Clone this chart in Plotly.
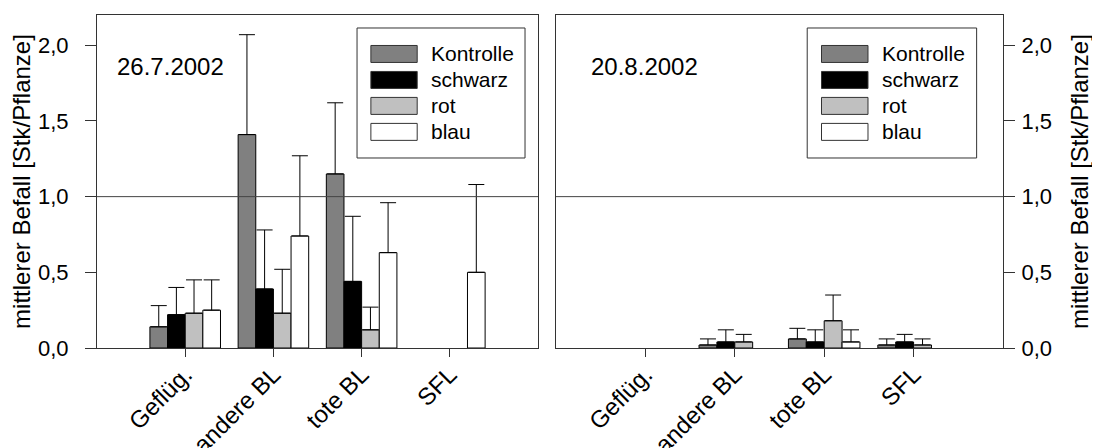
import plotly.graph_objects as go

categories = ["Geflüg.", "andere BL", "tote BL", "SFL"]
series_names = ["Kontrolle", "schwarz", "rot", "blau"]
series_colors = ["#808080", "#000000", "#c0c0c0", "#ffffff"]

dates = ["26.7.2002", "20.8.2002"]

# 26.7.2002 means and upper errors
jul_values = {
    "Kontrolle": [0.14, 1.41, 1.15, 0.0],
    "schwarz":   [0.22, 0.39, 0.44, 0.0],
    "rot":       [0.23, 0.23, 0.12, 0.0],
    "blau":      [0.25, 0.74, 0.63, 0.50],
}
jul_errors = {
    "Kontrolle": [0.14, 0.66, 0.47, 0.0],
    "schwarz":   [0.18, 0.39, 0.43, 0.0],
    "rot":       [0.22, 0.29, 0.15, 0.0],
    "blau":      [0.20, 0.53, 0.33, 0.58],
}
# 20.8.2002 means and upper errors
aug_values = {
    "Kontrolle": [0.0, 0.02, 0.06, 0.02],
    "schwarz":   [0.0, 0.04, 0.04, 0.04],
    "rot":       [0.0, 0.04, 0.18, 0.02],
    "blau":      [0.0, 0.0, 0.04, 0.0],
}
aug_errors = {
    "Kontrolle": [0.0, 0.04, 0.07, 0.04],
    "schwarz":   [0.0, 0.08, 0.08, 0.05],
    "rot":       [0.0, 0.05, 0.17, 0.04],
    "blau":      [0.0, 0.0, 0.08, 0.0],
}

y_tickvals = [0.0, 0.5, 1.0, 1.5, 2.0]
y_ticktext = ["0,0", "0,5", "1,0", "1,5", "2,0"]
y_title = "mittlerer Befall [Stk/Pflanze]"
threshold = 1.0

FONT = "Liberation Sans, Arial, sans-serif"
AXC = "#333333"

fig = go.Figure()

panels = [(jul_values, jul_errors, "x", "y"), (aug_values, aug_errors, "x2", "y2")]
for vals, errs, xa, ya in panels:
    for name, col in zip(series_names, series_colors):
        v = vals[name]
        e = errs[name]
        fig.add_trace(go.Bar(
            x=list(range(len(categories))), y=[a if a > 0 else None for a in v], name=name,
            xaxis=xa, yaxis=ya, offsetgroup=name,
            marker=dict(color=col, line=dict(color="#000000", width=1)),
            error_y=dict(type="data", array=[x if x > 0 else None for x in e],
                         arrayminus=[0] * len(e), symmetric=False,
                         width=8, thickness=1, color="#000000"),
            showlegend=False,
        ))

xcommon = dict(range=[-1, 4], tickvals=list(range(len(categories))), ticktext=categories,
               tickangle=-45, ticks="outside", ticklen=8, tickwidth=1, tickcolor=AXC,
               showline=True, linecolor=AXC, linewidth=1, mirror=True,
               showgrid=False, zeroline=False, automargin=False, ticklabelstandoff=-6,
               tickfont=dict(family=FONT, size=24, color="#000"))
ycommon = dict(range=[0, 2.2], tickvals=y_tickvals, ticktext=y_ticktext,
               ticks="outside", ticklen=11, tickwidth=1, tickcolor=AXC,
               showline=True, linecolor=AXC, linewidth=1, mirror=True,
               showgrid=False, zeroline=False, automargin=False,
               tickfont=dict(family=FONT, size=22, color="#000"))

fig.update_layout(
    width=1092, height=440,
    margin=dict(l=89, r=97, t=7, b=100),
    paper_bgcolor="white", plot_bgcolor="white",
    barmode="group", bargap=0.2, bargroupgap=0,
    xaxis=dict(domain=[0, 0.4868], anchor="y", **xcommon),
    xaxis2=dict(domain=[0.5066, 1], anchor="y2", **xcommon),
    yaxis=dict(domain=[0, 1], anchor="x", side="left", ticklabelstandoff=12,
               title=dict(text=y_title, font=dict(family=FONT, size=24, color="#000"), standoff=12),
               **ycommon),
    yaxis2=dict(domain=[0, 1], anchor="x2", side="right", ticklabelstandoff=2,
                title=dict(text=y_title, font=dict(family=FONT, size=24, color="#000"), standoff=20),
                **ycommon),
    showlegend=False,
)

# threshold line
for xa, ya in [("x", "y"), ("x2", "y2")]:
    fig.add_shape(type="line", xref=f"{xa} domain", yref=ya, x0=0, x1=1, y0=threshold, y1=threshold,
                  line=dict(color="#444444", width=1), layer="above")

# date labels
for (xa, ya), d, xp in zip([("x", "y"), ("x2", "y2")], dates, [0.041, 0.074]):
    fig.add_annotation(text=d, xref=f"{xa} domain", yref=f"{ya} domain", x=xp, y=0.844,
                       xanchor="left", yanchor="middle", showarrow=False,
                       font=dict(family=FONT, size=24, color="#000"))

# manual legends (large swatches)
legend_specs = [(("x", "y"), 0.5896, 0.9705, 0.621, 0.726, 0.753),
                (("x2", "y2"), 0.562, 0.941, 0.594, 0.698, 0.725)]
row_y = [0.883, 0.805, 0.727, 0.649]
for (xa, ya), bx0, bx1, sx0, sx1, tx in legend_specs:
    xr, yr = f"{xa} domain", f"{ya} domain"
    fig.add_shape(type="rect", xref=xr, yref=yr, x0=bx0, x1=bx1, y0=0.5706, y1=0.961,
                  line=dict(color=AXC, width=1), fillcolor="white", layer="above")
    for name, col, ry in zip(series_names, series_colors, row_y):
        fig.add_shape(type="rect", xref=xr, yref=yr, x0=sx0, x1=sx1, y0=ry - 0.0255, y1=ry + 0.0255,
                      line=dict(color=AXC, width=1), fillcolor=col, layer="above")
        fig.add_annotation(text=name, xref=xr, yref=yr, x=tx, y=ry, xanchor="left", yanchor="middle",
                           showarrow=False, font=dict(family=FONT, size=21, color="#000"))

fig.write_html("out.html")
